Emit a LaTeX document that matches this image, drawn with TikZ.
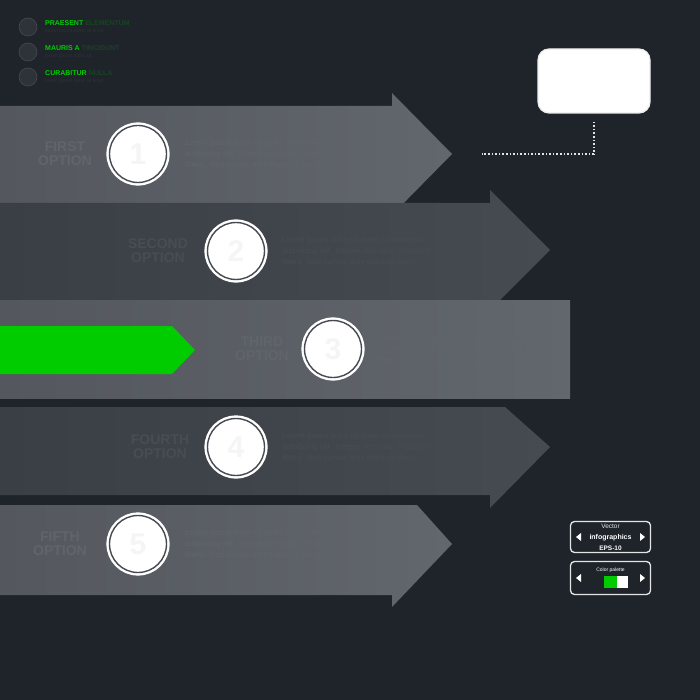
\documentclass[tikz,border=0pt]{standalone}
\usepackage{fontspec}
\setmainfont{Liberation Sans}
\usetikzlibrary{shapes.geometric}
\definecolor{bgc}{RGB}{31,36,43}
\definecolor{lightA}{RGB}{84,88,94}
\definecolor{lightB}{RGB}{98,103,109}
\definecolor{darkA}{RGB}{58,62,69}
\definecolor{darkB}{RGB}{70,75,82}
\definecolor{grn}{RGB}{0,204,0}
\definecolor{gapc}{RGB}{70,74,80}
\definecolor{faintL}{RGB}{96,101,108}
\definecolor{faintD}{RGB}{72,77,84}
\definecolor{legc}{RGB}{46,51,58}
\begin{document}
\begin{tikzpicture}[x=1pt,y=-1pt,
  lightarrow/.style={left color=lightA,right color=lightB},
  darkarrow/.style={left color=darkA,right color=darkB},
  numcirc/.style={circle,fill=white,draw=white,double=gapc,double distance=1.4pt,line width=2.4pt,minimum size=57pt,inner sep=0pt,text=white!96!black,font=\bfseries\fontsize{30}{30}\selectfont},
  optlabel/.style={align=center,font=\bfseries\fontsize{14}{14}\selectfont,inner sep=0pt},
  desc/.style={align=left,font=\fontsize{8}{11}\selectfont,inner sep=0pt,anchor=west},
  legdot/.style={circle,fill=legc,draw=gray!40!bgc,line width=0.6pt,minimum size=18pt,inner sep=0pt},
  legtxt/.style={anchor=west,inner sep=0pt,align=left,font=\bfseries\fontsize{7}{8}\selectfont},
  infobtn/.style={rounded corners=4pt,draw=white!80!gray,line width=1.3pt,fill=bgc,minimum width=80pt,inner sep=0pt,align=center},
  tri/.style={fill=white}
]
\useasboundingbox (0,0) rectangle (700,700);
\fill[bgc] (0,0) rectangle (700,700);

% legend
\node[legdot] (l1) at (28,27) {};
\node[legdot] (l2) at (28,52) {};
\node[legdot] (l3) at (28,77) {};
\node[legtxt] (t1) at (45,27) {\textcolor{grn}{PRAESENT}~\textcolor{grn!18!bgc}{ELEMENTUM}\\[-1pt]\textcolor{gray!14!bgc}{\mdseries\fontsize{5}{6}\selectfont lorem ipsum dolor sit amet}};
\node[legtxt] (t2) at (45,52) {\textcolor{grn}{MAURIS A}~\textcolor{grn!18!bgc}{TINCIDUNT}\\[-1pt]\textcolor{gray!14!bgc}{\mdseries\fontsize{5}{6}\selectfont lorem ipsum dolor sit}};
\node[legtxt] (t3) at (45,77) {\textcolor{grn}{CURABITUR}~\textcolor{grn!18!bgc}{NULLA}\\[-1pt]\textcolor{gray!14!bgc}{\mdseries\fontsize{5}{6}\selectfont lorem ipsum dolor sit amet}};

% arrow 1
\shade[lightarrow] (0,106) -- (392,106) -- (392,93) -- (452,154) -- (392,215) -- (392,203) -- (0,203) -- cycle;
% arrow 5
\shade[lightarrow] (0,505) -- (417,505) -- (452,544) -- (392,607) -- (392,595) -- (0,595) -- cycle;
% arrow 2
\shade[darkarrow] (0,203) -- (490,203) -- (490,190) -- (550,250) -- (490,310) -- (490,300) -- (0,300) -- cycle;
% arrow 4
\shade[darkarrow] (0,407) -- (505,407) -- (550,447) -- (490,508) -- (490,495) -- (0,495) -- cycle;
% arrow 3
\shade[lightarrow] (0,300) rectangle (570,398);
\fill[grn] (0,326) -- (172,326) -- (195,350) -- (172,374) -- (0,374) -- cycle;

% faint option labels
\node[optlabel,text=faintL] (o1) at (65,154) {FIRST\\OPTION};
\node[optlabel,text=faintD] (o2) at (158,251) {SECOND\\OPTION};
\node[optlabel,text=faintL] (o3) at (262,349) {THIRD\\OPTION};
\node[optlabel,text=faintD] (o4) at (160,447) {FOURTH\\OPTION};
\node[optlabel,text=faintL] (o5) at (60,544) {FIFTH\\OPTION};

\node[desc,text=faintL] (d1) at (185,154) {Lorem ipsum dolor sit amet, consectetur\\adipiscing elit. Integer nec odio. Praesent\\libero. Sed cursus ante dapibus diam.};
\node[desc,text=faintD] (d2) at (282,251) {Lorem ipsum dolor sit amet, consectetur\\adipiscing elit. Integer nec odio. Praesent\\libero. Sed cursus ante dapibus diam.};
\node[desc,text=faintL] (d3) at (378,349) {Lorem ipsum dolor sit amet, consectetur\\adipiscing elit. Integer nec odio. Praesent\\libero. Sed cursus ante dapibus diam.};
\node[desc,text=faintD] (d4) at (282,447) {Lorem ipsum dolor sit amet, consectetur\\adipiscing elit. Integer nec odio. Praesent\\libero. Sed cursus ante dapibus diam.};
\node[desc,text=faintL] (d5) at (185,544) {Lorem ipsum dolor sit amet, consectetur\\adipiscing elit. Integer nec odio. Praesent\\libero. Sed cursus ante dapibus diam.};

% number circles
\node[numcirc] (c1) at (138,154) {1};
\node[numcirc] (c2) at (236,251) {2};
\node[numcirc] (c3) at (333,349) {3};
\node[numcirc] (c4) at (236,447) {4};
\node[numcirc] (c5) at (138,544) {5};

% top right box and dotted connector
\node[rounded corners=11pt,fill=white,draw=white!85!gray,line width=1.2pt,minimum width=112pt,minimum height=64pt] (box) at (594,81) {};
\coordinate (dotend) at (482,154);
\draw[white!78!gray,line width=1.6pt,dash pattern=on 1.6pt off 2pt,shorten <=8pt] (box.south) |- (dotend);

% bottom right buttons
\node[infobtn,minimum height=31pt] (b1) at (610.5,537) {{\color{white!80!gray}\fontsize{6.5}{7}\selectfont Vector}\\[-1pt]{\color{white}\bfseries\fontsize{7}{8}\selectfont infographics}\\[-1pt]{\color{white}\bfseries\fontsize{6.5}{7}\selectfont EPS-10}};
\node[infobtn,minimum height=33pt] (b2) at (610.5,578) {};
\node[inner sep=0pt,font=\fontsize{5}{6}\selectfont,text=white] (cp) at (610.5,570) {Color palette};
\fill[grn] (604,576) rectangle (617,588);
\fill[white] (617,576) rectangle (628,588);
\fill[tri] (576,537) -- (581,533) -- (581,541) -- cycle;
\fill[tri] (645,537) -- (640,533) -- (640,541) -- cycle;
\fill[tri] (576,578) -- (581,574) -- (581,582) -- cycle;
\fill[tri] (645,578) -- (640,574) -- (640,582) -- cycle;
\end{tikzpicture}
\end{document}
